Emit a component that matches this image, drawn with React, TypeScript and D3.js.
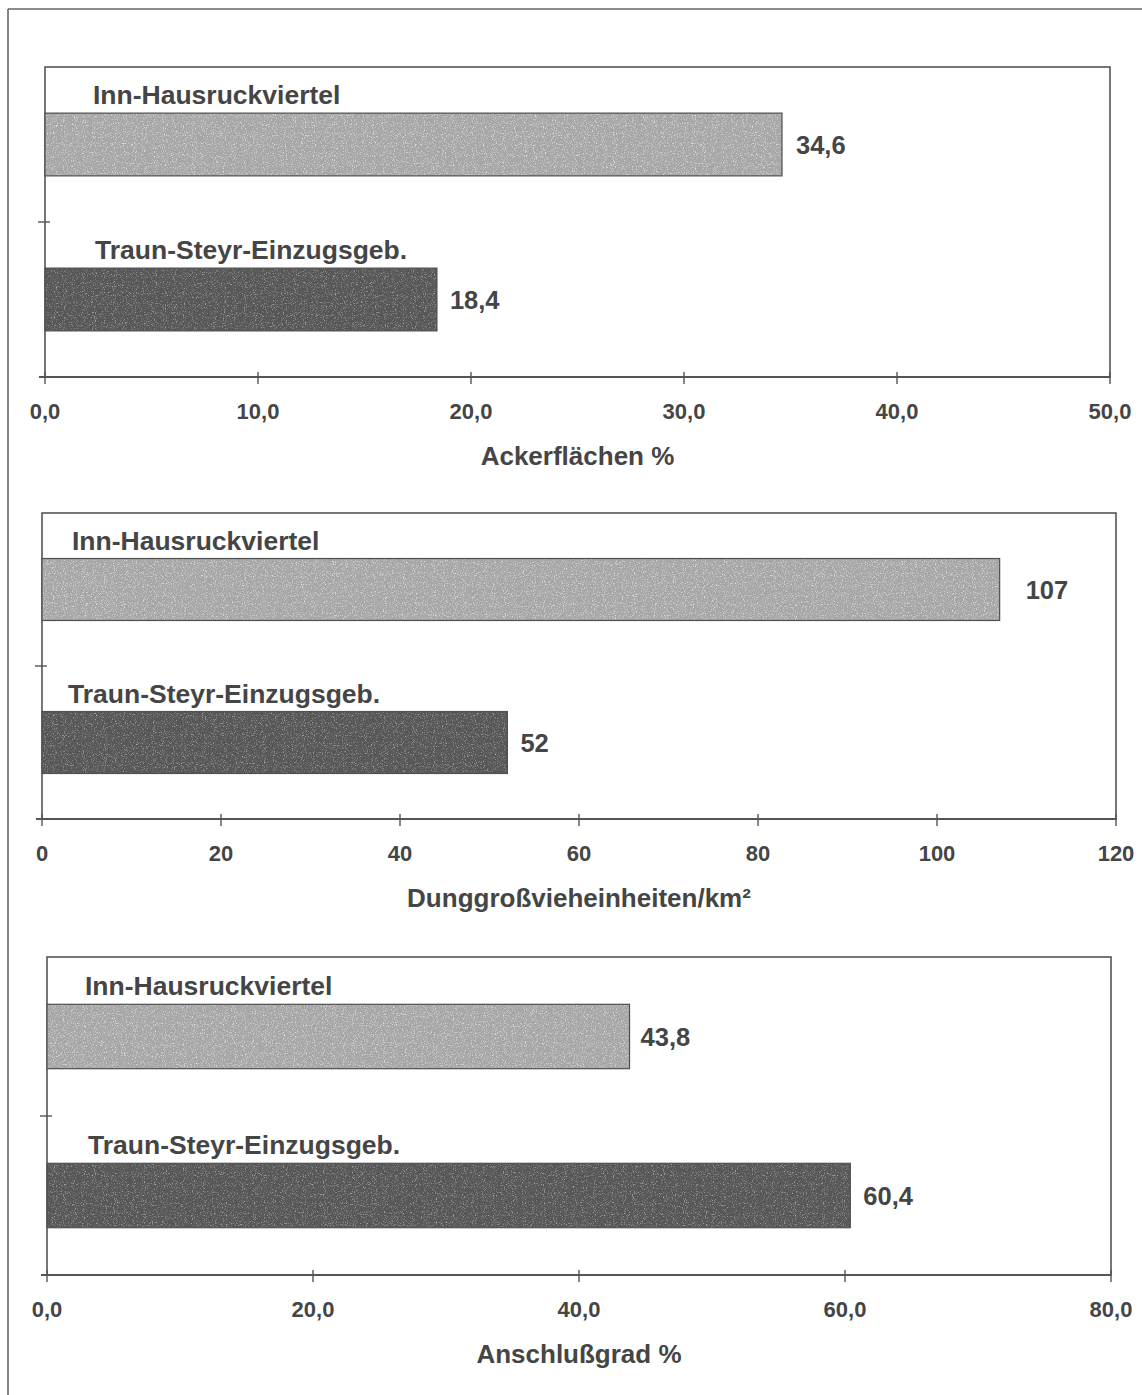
import React from "react";
import * as d3 from "d3";

// Regions compared in every panel (top bar first)
const categories = ["Inn-Hausruckviertel", "Traun-Steyr-Einzugsgeb."];

// Share of arable land, %
const ackerValues = [34.6, 18.4];
const ackerTicks = [0, 10, 20, 30, 40, 50];

// Livestock manure units per km²
const dungValues = [107, 52];
const dungTicks = [0, 20, 40, 60, 80, 100, 120];

// Sewer connection rate, %
const anschlussValues = [43.8, 60.4];
const anschlussTicks = [0, 20, 40, 60, 80];

const axisTitles = ["Ackerflächen %", "Dunggroßvieheinheiten/km²", "Anschlußgrad %"];

const W = 1142;
const H = 1395;
const INK = "#454545";
const BAR_FILLS = ["#a6a6a6", "#575757"];

const comma1 = (v: number) => d3.format(".1f")(v).replace(".", ",");
const whole = (v: number) => d3.format("d")(v);

type PanelSpec = {
  values: number[];
  ticks: number[];
  title: string;
  fmt: (v: number) => string;
  box: { left: number; right: number; top: number; bottom: number };
  labelDx: number[];
  valueDx: number[];
};

const panels: PanelSpec[] = [
  {
    values: ackerValues,
    ticks: ackerTicks,
    title: axisTitles[0],
    fmt: comma1,
    box: { left: 45, right: 1110, top: 67, bottom: 377 },
    labelDx: [48, 50],
    valueDx: [14, 13],
  },
  {
    values: dungValues,
    ticks: dungTicks,
    title: axisTitles[1],
    fmt: whole,
    box: { left: 42, right: 1116, top: 513, bottom: 819 },
    labelDx: [30, 26],
    valueDx: [26, 13],
  },
  {
    values: anschlussValues,
    ticks: anschlussTicks,
    title: axisTitles[2],
    fmt: comma1,
    box: { left: 47, right: 1111, top: 957, bottom: 1275 },
    labelDx: [38, 41],
    valueDx: [11, 13],
  },
];

const FONT = "'Liberation Sans', Arial, sans-serif";

function Panel({ spec }: { spec: PanelSpec }) {
  const { box, values, ticks, fmt, title, labelDx, valueDx } = spec;
  const x = d3
    .scaleLinear()
    .domain([ticks[0], ticks[ticks.length - 1]])
    .range([box.left, box.right]);
  const y = d3.scaleBand<string>().domain(categories).range([box.top, box.bottom]).padding(0);
  const barH = y.bandwidth() * 0.405;
  const midY = box.top + y.bandwidth();

  return (
    <g>
      {/* plot frame */}
      <rect
        x={box.left}
        y={box.top}
        width={box.right - box.left}
        height={box.bottom - box.top}
        fill="none"
        stroke="#555"
        strokeWidth={1.6}
      />
      {/* category tick on the value axis */}
      <line x1={box.left - 7} x2={box.left + 5} y1={midY} y2={midY} stroke="#555" strokeWidth={1.4} />
      {/* bars */}
      {categories.map((c, i) => {
        const cy = (y(c) ?? 0) + y.bandwidth() / 2;
        const top = cy - barH / 2;
        const xEnd = x(values[i]);
        return (
          <g key={c}>
            <rect
              x={x(0)}
              y={top}
              width={xEnd - x(0)}
              height={barH}
              fill={BAR_FILLS[i]}
              stroke="#505050"
              strokeWidth={1.2}
            />
            <rect
              x={x(0) + 1}
              y={top + 1}
              width={xEnd - x(0) - 2}
              height={barH - 2}
              fill="#fff"
              filter={`url(#grain${i})`}
              opacity={0.9}
            />
            <text
              x={box.left + labelDx[i]}
              y={top - 9}
              fontFamily={FONT}
              fontWeight="bold"
              fontSize={26.5}
              fill={INK}
            >
              {c}
            </text>
            <text
              x={xEnd + valueDx[i]}
              y={cy + 9}
              fontFamily={FONT}
              fontWeight="bold"
              fontSize={25.5}
              fill={INK}
            >
              {fmt(values[i])}
            </text>
          </g>
        );
      })}
      {/* value axis */}
      <line x1={box.left - 6} x2={box.right} y1={box.bottom} y2={box.bottom} stroke="#555" strokeWidth={1.8} />
      {ticks.map((t) => (
        <g key={t}>
          <line x1={x(t)} x2={x(t)} y1={box.bottom - 5} y2={box.bottom + 7} stroke="#555" strokeWidth={1.4} />
          <text
            x={x(t)}
            y={box.bottom + 42}
            textAnchor="middle"
            fontFamily={FONT}
            fontWeight="bold"
            fontSize={22}
            fill={INK}
          >
            {fmt(t)}
          </text>
        </g>
      ))}
      <text
        x={(box.left + box.right) / 2}
        y={box.bottom + 88}
        textAnchor="middle"
        fontFamily={FONT}
        fontWeight="bold"
        fontSize={26}
        fill={INK}
      >
        {title}
      </text>
    </g>
  );
}

export default function App() {
  return (
    <svg
      width={W}
      height={H}
      viewBox={`0 0 ${W} ${H}`}
      style={{ position: "absolute", left: 0, top: 0, background: "#fff" }}
    >
      <defs>
        {[0, 1].map((i) => (
          <filter key={i} id={`grain${i}`} x="0" y="0" width="100%" height="100%">
            <feTurbulence type="fractalNoise" baseFrequency={0.9} numOctaves={2} seed={i + 3} result="noise" />
            <feColorMatrix
              in="noise"
              type="matrix"
              values={
                i === 0
                  ? "0 0 0 0 0.85  0 0 0 0 0.85  0 0 0 0 0.85  -3 0 0 0 1.45"
                  : "0 0 0 0 0.5  0 0 0 0 0.5  0 0 0 0 0.5  -3 0 0 0 1.4"
              }
              result="speck"
            />
            <feComposite in="speck" in2="SourceGraphic" operator="in" />
          </filter>
        ))}
      </defs>
      <rect x={0} y={0} width={W} height={H} fill="#fff" />
      {/* outer page frame */}
      <line x1={8} x2={W} y1={9} y2={9} stroke="#666" strokeWidth={1.6} />
      <line x1={8} x2={8} y1={9} y2={H} stroke="#666" strokeWidth={1.6} />
      {panels.map((p, i) => (
        <Panel key={i} spec={p} />
      ))}
    </svg>
  );
}
